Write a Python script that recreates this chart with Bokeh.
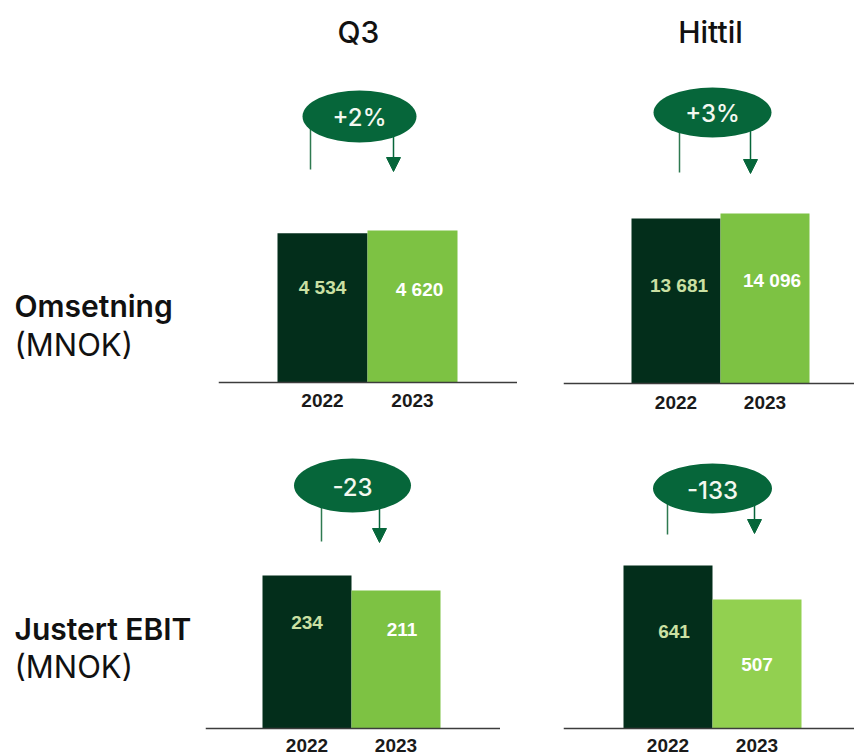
from bokeh.plotting import figure
from bokeh.models import Range1d, ColumnDataSource, Arrow, NormalHead, Spacer, Span
from bokeh.layouts import row, column
from bokeh.core.properties import value
from bokeh.embed import file_html
from bokeh.resources import INLINE

# ---------------- data ----------------
years = ["2022", "2023"]
omsetning_q3 = [4534, 4620]
omsetning_hittil = [13681, 14096]
ebit_q3 = [234, 211]
ebit_hittil = [641, 507]
changes = ["+2%", "+3%", "-23", "-133"]
col_headers = ["Q3", "Hittil"]
row_labels = [("Omsetning", "(MNOK)"), ("Justert EBIT", "(MNOK)")]

# ---------------- style ----------------
DARK = "#032E1B"
LIGHT = "#7DC243"
LIGHT2 = "#92D050"
GREEN = "#06663A"
LBL_DARK = "#CBE0A3"
BASE_COL = "#3C3C3C"
FONT = "Inter"
FONT_MED = "Inter Medium"
FONT_SEMI = "Inter SemiBold"
NUMFONT = "Liberation Sans"


def fmt(v):
    return f"{v:,}".replace(",", " ")


def base_fig(W, H, xr, yr):
    p = figure(width=W, height=H, x_range=xr, y_range=yr, output_backend="svg",
               toolbar_location=None, min_border=0, x_axis_location=None,
               y_axis_location=None, outline_line_color=None)
    p.grid.visible = False
    return p


def make_panel(cfg, vals, light, change, header=None):
    X0, Y0, W, H = cfg["box"]
    B = cfg["bar_px"]
    k = cfg["max_px"] / max(vals)
    x0 = 0.5 - (cfg["join"] - X0) / B
    y0 = -(Y0 + H - cfg["base"]) / k
    p = base_fig(W, H, Range1d(x0, x0 + W / B), Range1d(y0, y0 + H / k))

    def sx(px):
        return x0 + (px - X0) / B

    def sy(py):
        return y0 + (Y0 + H - py) / k

    src = ColumnDataSource(dict(
        x=list(range(len(years))), year=years, v=vals,
        color=[DARK, light], label=[fmt(v) for v in vals],
        lc=[LBL_DARK, "#FFFFFF"], xo=cfg["lbl_dx"], yo=cfg["lbl_dy"],
    ))
    p.vbar(x="x", top="v", bottom=0, width=1, fill_color="color",
           line_color=None, source=src)
    p.add_layout(Span(location=0, dimension="width", line_color=BASE_COL,
                      line_width=1.5))
    p.text(x="x", y=0, text="year", y_offset=cfg["year_dy"], source=src,
           text_font=value(NUMFONT), text_font_style="bold",
           text_font_size="19px", text_color="#1A1A1A",
           text_align="center", text_baseline="middle")
    p.text(x="x", y="v", text="label", x_offset="xo", y_offset="yo",
           text_color="lc", source=src, text_font=value(NUMFONT),
           text_font_style="bold", text_font_size="19px",
           text_align="center", text_baseline="middle")

    cx, cy, ew, eh = cfg["ell"]
    lx, ly = cfg["left_line"]
    ax, ay = cfg["arrow"]
    p.segment(x0=[sx(lx)], y0=[sy(cy)], x1=[sx(lx)], y1=[sy(ly)],
              line_color="#2E7A50", line_width=1.5)
    arr = Arrow(end=NormalHead(size=14, fill_color=GREEN, line_color=GREEN),
                x_start=sx(ax), y_start=sy(cy), x_end=sx(ax), y_end=sy(ay),
                line_color=GREEN, line_width=1.5, level="underlay")
    p.add_layout(arr)
    p.ellipse(x=[sx(cx)], y=[sy(cy)], width=ew, height=eh,
              width_units="screen", height_units="screen",
              fill_color=GREEN, line_color=None)
    p.text(x=[sx(cx)], y=[sy(cy + 1)], text=[change], text_font=value(FONT_MED),
           text_font_size="24px", text_color="#F4F8F0",
           text_align="center", text_baseline="middle")
    if header is not None:
        hx, hy = cfg["header"]
        p.text(x=[sx(hx)], y=[sy(hy)], text=[header], text_font=value(FONT_MED),
               text_font_size="30px", text_color="#111111",
               text_align="center", text_baseline="middle")
    return p


def make_label_fig(X0, Y0, W, H, title, unit, ty, uy):
    p = base_fig(W, H, Range1d(X0, X0 + W), Range1d(Y0 + H, Y0))
    p.text(x=[14], y=[ty], text=[title], text_font=value(FONT_SEMI),
           text_font_size="30px", text_color="#111111",
           text_align="left", text_baseline="middle")
    p.text(x=[14], y=[uy], text=[unit], text_font=value(FONT),
           text_font_size="31px", text_color="#111111",
           text_align="left", text_baseline="middle")
    return p


# layout configuration (screen pixel positions)
TOP_Y, TOP_H = 0, 420
BOT_Y, BOT_H = 420, 336

cfg_tl = dict(box=(218, TOP_Y, 299, TOP_H), bar_px=90, join=367, base=382,
              max_px=152, lbl_dx=[0, 7], lbl_dy=[54, 59], year_dy=18,
              ell=(359, 116, 114, 52), left_line=(310, 169), arrow=(393, 171),
              header=(358, 31))
cfg_tr = dict(box=(563, TOP_Y, 291, TOP_H), bar_px=89, join=720, base=383,
              max_px=170, lbl_dx=[3, 7], lbl_dy=[67, 67], year_dy=19,
              ell=(712, 112, 118, 50), left_line=(679, 172), arrow=(750, 173),
              header=(710, 31))
cfg_bl = dict(box=(205, BOT_Y, 295, BOT_H), bar_px=89, join=351, base=728,
              max_px=153, lbl_dx=[0, 6], lbl_dy=[47, 39], year_dy=17,
              ell=(352, 485, 117, 54), left_line=(321, 541), arrow=(379, 542))
cfg_br = dict(box=(563, BOT_Y, 291, BOT_H), bar_px=89, join=712, base=728,
              max_px=163, lbl_dx=[6, 0], lbl_dy=[66, 65], year_dy=17,
              ell=(712, 488, 119, 50), left_line=(667, 534), arrow=(754, 533))

tl = make_panel(cfg_tl, omsetning_q3, LIGHT, changes[0], col_headers[0])
tr = make_panel(cfg_tr, omsetning_hittil, LIGHT, changes[1], col_headers[1])
bl = make_panel(cfg_bl, ebit_q3, LIGHT, changes[2])
br = make_panel(cfg_br, ebit_hittil, LIGHT2, changes[3])

lab1 = make_label_fig(0, TOP_Y, 218, TOP_H, row_labels[0][0], row_labels[0][1], 305, 344)
lab2 = make_label_fig(0, BOT_Y, 205, BOT_H, row_labels[1][0], row_labels[1][1], 628, 666)

layout = column(
    row(lab1, tl, Spacer(width=46, height=TOP_H), tr),
    row(lab2, bl, Spacer(width=63, height=BOT_H), br),
)

open("out.html", "w").write(file_html(layout, INLINE))
